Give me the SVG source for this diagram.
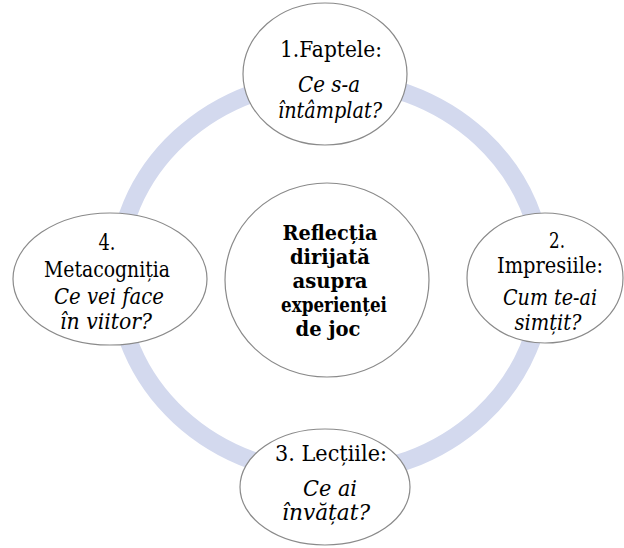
<svg xmlns="http://www.w3.org/2000/svg" width="624" height="548" viewBox="0 0 624 548">
<style>
.ring{fill:none;stroke:#d3d9ee;stroke-width:18}
.node{fill:#ffffff;stroke:#8a8a8a;stroke-width:1.2}
text{font-family:"DejaVu Serif","Liberation Serif",serif;font-size:22px;fill:#000;text-anchor:middle}
.it{font-style:italic}
.b{font-weight:bold;font-size:21px}
</style>
<rect width="624" height="548" fill="#ffffff"/>
<g id="connectors">
<ellipse class="ring" cx="330" cy="277" rx="213" ry="197"/>
</g>
<g id="node-top">
<ellipse class="node" cx="325" cy="74" rx="82" ry="71"/>
<text x="331" y="57" textLength="102" lengthAdjust="spacingAndGlyphs">1.Faptele:</text>
<text class="it" x="329" y="92" textLength="62" lengthAdjust="spacingAndGlyphs">Ce s-a</text>
<text class="it" x="330" y="118" textLength="104" lengthAdjust="spacingAndGlyphs">întâmplat?</text>
</g>
<g id="node-right">
<ellipse class="node" cx="545" cy="278" rx="78" ry="65"/>
<text x="557" y="248" textLength="16" lengthAdjust="spacingAndGlyphs">2.</text>
<text x="550" y="273" textLength="106" lengthAdjust="spacingAndGlyphs">Impresiile:</text>
<text class="it" x="550" y="305" textLength="94" lengthAdjust="spacingAndGlyphs">Cum te-ai</text>
<text class="it" x="548" y="330" textLength="67" lengthAdjust="spacingAndGlyphs">simțit?</text>
</g>
<g id="node-bottom">
<ellipse class="node" cx="325" cy="487" rx="85" ry="58"/>
<text x="331" y="461" textLength="112" lengthAdjust="spacingAndGlyphs">3. Lecțiile:</text>
<text class="it" x="330" y="496" textLength="54" lengthAdjust="spacingAndGlyphs">Ce ai</text>
<text class="it" x="326" y="520" textLength="88" lengthAdjust="spacingAndGlyphs">învățat?</text>
</g>
<g id="node-left">
<ellipse class="node" cx="110" cy="279" rx="97" ry="66"/>
<text x="107" y="250" textLength="17" lengthAdjust="spacingAndGlyphs">4.</text>
<text x="107" y="277" textLength="126" lengthAdjust="spacingAndGlyphs">Metacogniția</text>
<text class="it" x="109" y="304" textLength="110" lengthAdjust="spacingAndGlyphs">Ce vei face</text>
<text class="it" x="106" y="329" textLength="92" lengthAdjust="spacingAndGlyphs">în viitor?</text>
</g>
<g id="node-center">
<ellipse class="node" cx="327" cy="280" rx="102" ry="97"/>
<text class="b" x="330" y="240" textLength="95" lengthAdjust="spacingAndGlyphs">Reflecția</text>
<text class="b" x="330" y="264" textLength="80" lengthAdjust="spacingAndGlyphs">dirijată</text>
<text class="b" x="330" y="288" textLength="75" lengthAdjust="spacingAndGlyphs">asupra</text>
<text class="b" x="334" y="312" textLength="106" lengthAdjust="spacingAndGlyphs">experienței</text>
<text class="b" x="328" y="336" textLength="65" lengthAdjust="spacingAndGlyphs">de joc</text>
</g>
</svg>
